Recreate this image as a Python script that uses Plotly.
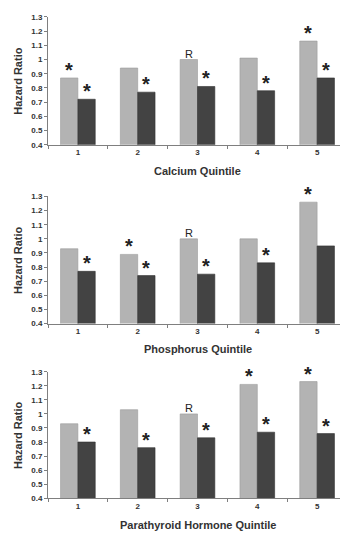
import plotly.graph_objects as go

quintiles = ["1", "2", "3", "4", "5"]

calcium_light = [0.87, 0.94, 1.00, 1.01, 1.13]
calcium_dark = [0.72, 0.77, 0.81, 0.78, 0.87]
calcium_light_marks = ["*", "", "R", "", "*"]
calcium_dark_marks = ["*", "*", "*", "*", "*"]

phos_light = [0.93, 0.89, 1.00, 1.00, 1.26]
phos_dark = [0.77, 0.74, 0.75, 0.83, 0.95]
phos_light_marks = ["", "*", "R", "", "*"]
phos_dark_marks = ["*", "*", "*", "*", ""]

pth_light = [0.93, 1.03, 1.00, 1.21, 1.23]
pth_dark = [0.80, 0.76, 0.83, 0.87, 0.86]
pth_light_marks = ["", "", "R", "*", "*"]
pth_dark_marks = ["*", "*", "*", "*", "*"]

panel_titles = ["Calcium Quintile", "Phosphorus Quintile", "Parathyroid Hormone Quintile"]
y_title = "Hazard Ratio"
y_tick_vals = [0.4, 0.5, 0.6, 0.7, 0.8, 0.9, 1.0, 1.1, 1.2, 1.3]
y_tick_text = ["0.4", "0.5", "0.6", "0.7", "0.8", "0.9", "1", "1.1", "1.2", "1.3"]

panels = [
    (calcium_light, calcium_dark, calcium_light_marks, calcium_dark_marks),
    (phos_light, phos_dark, phos_light_marks, phos_dark_marks),
    (pth_light, pth_dark, pth_light_marks, pth_dark_marks),
]

# the page body has an 8px default margin; figure is sized to the visible area
OFF = 8
W, H = 348 - OFF, 535 - OFF
# window-pixel positions (top at 1.3, bottom at 0.4) for each panel
panel_px = [(13, 143), (195.7, 325), (374, 502.7)]
x_px = (48, 347)
title_px = [170, 351, 530]
ytitle_x = 18
BARGAP = 0.42

LIGHT = "#b3b3b3"
DARK = "#434343"
FONT = "Liberation Sans, Arial, sans-serif"


def fx(px):
    return (px - OFF) / W


def fy(py):
    return (H - (py - OFF)) / H


# half of one bar's width in pixels, used to centre a mark over its bar
band_px = (min(x_px[1], W + OFF) - x_px[0]) / len(quintiles)
half_bar = band_px * (1 - BARGAP) / 4

fig = go.Figure()
layout = dict(
    width=W, height=H,
    margin=dict(l=0, r=0, t=0, b=0),
    paper_bgcolor="white", plot_bgcolor="white",
    showlegend=False,
    barmode="group", bargap=BARGAP, bargroupgap=0,
    font=dict(family=FONT, color="#333333"),
)
annotations = []
for i, (light, dark, lm, dm) in enumerate(panels):
    xa = "x" if i == 0 else f"x{i+1}"
    ya = "y" if i == 0 else f"y{i+1}"
    for k, (vals, marks, color, line) in enumerate(
            [(light, lm, LIGHT, "#9a9a9a"), (dark, dm, DARK, "#333333")]):
        fig.add_trace(go.Bar(
            x=quintiles, y=vals, xaxis=xa, yaxis=ya,
            marker=dict(color=color, line=dict(color=line, width=0.6)),
            hoverinfo="skip",
        ))
        for j, (v, m) in enumerate(zip(vals, marks)):
            if not m:
                continue
            star = m == "*"
            annotations.append(dict(
                text=m, xref=xa, yref=ya, x=j, y=v,
                xshift=(-half_bar if k == 0 else half_bar),
                xanchor="center", yanchor="bottom",
                yshift=(-5 if star else -2),
                showarrow=False,
                font=dict(size=(20 if star else 11), family=FONT, color="#222222",
                          weight=("bold" if star else "normal")),
            ))
    top, bot = panel_px[i]
    yd = [fy(bot), fy(top)]
    xd = [fx(x_px[0]), min(1.0, fx(x_px[1]))]
    xkey = "xaxis" if i == 0 else f"xaxis{i+1}"
    ykey = "yaxis" if i == 0 else f"yaxis{i+1}"
    layout[xkey] = dict(
        domain=xd, anchor=ya, type="category",
        range=[-0.5, len(quintiles) - 0.5],
        showline=True, linecolor="#7f7f7f", linewidth=1,
        ticks="outside", tickson="boundaries", ticklen=3, tickcolor="#7f7f7f",
        tickfont=dict(size=8, family=FONT, color="#333333", weight="bold"),
        showgrid=False, zeroline=False,
    )
    layout[ykey] = dict(
        domain=yd, anchor=xa, range=[0.4, 1.3],
        tickvals=y_tick_vals, ticktext=y_tick_text,
        showline=True, linecolor="#7f7f7f", linewidth=1,
        ticks="outside", ticklen=3, tickcolor="#7f7f7f",
        tickfont=dict(size=8, family=FONT, color="#333333", weight="bold"),
        showgrid=False, zeroline=False,
    )
    annotations.append(dict(
        text=y_title, xref="paper", yref="paper",
        x=fx(ytitle_x), y=fy((top + bot) / 2), textangle=-90,
        xanchor="center", yanchor="middle",
        showarrow=False, font=dict(size=11, family=FONT, color="#333333", weight="bold"),
    ))
    annotations.append(dict(
        text=panel_titles[i], xref="paper", yref="paper",
        x=fx((x_px[0] + x_px[1]) / 2), y=fy(title_px[i]),
        xanchor="center", yanchor="middle",
        showarrow=False, font=dict(size=11, family=FONT, color="#333333", weight="bold"),
    ))
layout["annotations"] = annotations
fig.update_layout(**layout)
fig.write_html("out.html")
